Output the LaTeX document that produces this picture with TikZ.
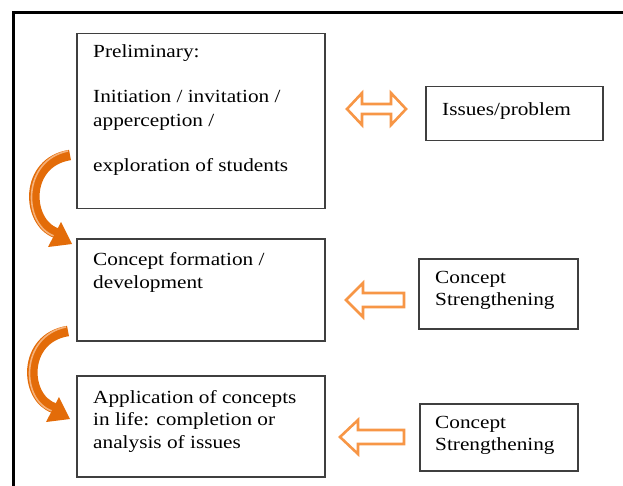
\documentclass[tikz,border=0pt]{standalone}
\usepackage{fontspec}
\setmainfont{Liberation Serif}[FakeStretch=1.15]
\usetikzlibrary{arrows.meta}
\definecolor{boxgray}{HTML}{3F3F3F}
\definecolor{lightor}{HTML}{F79646}
\definecolor{darkor}{HTML}{E36C09}
\definecolor{hilite}{HTML}{F6B27A}
\begin{document}
\begin{tikzpicture}[x=1pt,y=-1pt,
  panel/.style={draw=boxgray,line width=1.5pt,rectangle,anchor=north west,inner sep=0pt},
  txt/.style={anchor=base west,inner sep=0pt,font=\fontsize{18.5}{22}\selectfont,text=black},
  blockarrow/.style={draw=lightor,line width=2.6pt,fill=white,line join=miter},
  bendarrow/.style={draw=darkor,line width=10.5pt},
  bendlight/.style={draw=hilite,line width=1.6pt}]
\useasboundingbox (0,0) rectangle (623,486);
\clip (0,0) rectangle (623,486);
% outer frame
\draw[line width=3pt] (13,13) rectangle (660,520);
% left boxes
\node[panel,minimum width=248pt,minimum height=175pt] (b1) at (76,33) {};
\node[panel,minimum width=248pt,minimum height=102pt] (b2) at (76,238) {};
\node[panel,minimum width=248pt,minimum height=101pt] (b3) at (76,375) {};
% right boxes
\node[panel,minimum width=177pt,minimum height=54pt] (r1) at (425,86) {};
\node[panel,minimum width=159pt,minimum height=70pt] (r2) at (418,258) {};
\node[panel,minimum width=158pt,minimum height=67pt] (r3) at (419,403) {};
% texts box 1
\node[txt] (t11) at (93,58) {Preliminary:};
\node[txt] (t12) at (93,103) {Initiation / invitation /};
\node[txt] (t13) at (93,127) {apperception /};
\node[txt] (t14) at (93,172) {exploration of students};
% texts box 2
\node[txt] (t21) at (93,265) {Concept formation /};
\node[txt] (t22) at (93,288) {development};
% texts box 3
\node[txt] (t31) at (93,403) {Application of concepts};
\node[txt] (t32) at (93,425) {in life: completion or};
\node[txt] (t33) at (93,448) {analysis of issues};
% right texts
\node[txt] (u1) at (442,116) {Issues/problem};
\node[txt] (u21) at (435,283) {Concept};
\node[txt] (u22) at (435,305) {Strengthening};
\node[txt] (u31) at (435,428) {Concept};
\node[txt] (u32) at (435,450) {Strengthening};
% double arrow
\draw[blockarrow] (347,109) -- (362,93) -- (362,104) -- (391,104) -- (391,93)
  -- (406,109) -- (391,125) -- (391,114) -- (362,114) -- (362,125) -- cycle;
% left arrows
\draw[blockarrow] (346,300) -- (363,283) -- (363,293) -- (404,293) -- (404,307)
  -- (363,307) -- (363,317) -- cycle;
\draw[blockarrow] (340,437) -- (358,420) -- (358,430) -- (404,430) -- (404,444)
  -- (358,444) -- (358,454) -- cycle;
% curved arrows
\draw[bendarrow] (70,155) .. controls (24,162) and (26,222) .. (56,233);
\draw[bendlight] (68,151) .. controls (22,160) and (22,224) .. (54,236);
\fill[darkor] (72,244) -- (48,247) -- (61,222) -- cycle;
\draw[bendarrow] (68,331) .. controls (22,338) and (24,398) .. (54,408);
\draw[bendlight] (66,327) .. controls (20,336) and (20,400) .. (52,411);
\fill[darkor] (70,419) -- (46,422) -- (59,397) -- cycle;
\end{tikzpicture}
\end{document}
